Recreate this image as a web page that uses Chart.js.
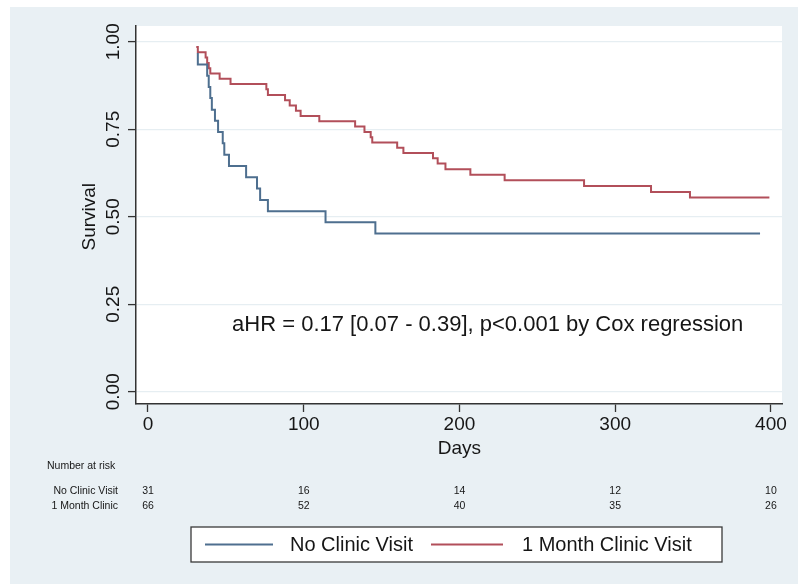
<!DOCTYPE html>
<html><head><meta charset="utf-8">
<script src="https://cdn.jsdelivr.net/npm/chart.js@4.4.1/dist/chart.umd.min.js"></script>
<style>html,body{margin:0;padding:0;background:#fff}#wrap{width:798px;height:584px;position:relative}</style>
</head><body><div id="wrap"><canvas id="c" width="798" height="584"></canvas></div>
<script>
const xTicks = [0, 100, 200, 300, 400];
const yTicks = [0, 0.25, 0.5, 0.75, 1];
const yTickLabels = ['0.00', '0.25', '0.50', '0.75', '1.00'];
const seriesNames = ['No Clinic Visit', '1 Month Clinic Visit'];
const riskTitle = 'Number at risk';
const riskRowLabels = ['No Clinic Visit', '1 Month Clinic'];
const riskDays = [0, 100, 200, 300, 400];
const riskNoVisit = [31, 16, 14, 12, 10];
const riskClinic = [66, 52, 40, 35, 26];
const annotationText = 'aHR = 0.17 [0.07 - 0.39], p<0.001 by Cox regression';

const noVisitDays = [32, 32, 38, 39, 40, 41, 43, 45, 48, 49, 52, 63, 70, 72, 77, 114, 146, 393];
const noVisitSurv = [0.968, 0.935, 0.903, 0.871, 0.839, 0.806, 0.774, 0.742, 0.710, 0.677, 0.645, 0.613, 0.581, 0.548, 0.516, 0.484, 0.452, 0.452];
const clinicDays = [31, 32, 37, 38, 39, 40, 46, 53, 76, 77, 88, 91, 95, 98, 110, 133, 139, 143, 144, 160, 164, 183, 186, 191, 207, 229, 280, 323, 348, 399];
const clinicSurv = [0.985, 0.970, 0.955, 0.939, 0.924, 0.909, 0.894, 0.879, 0.864, 0.848, 0.833, 0.818, 0.803, 0.788, 0.773, 0.758, 0.742, 0.727, 0.712, 0.697, 0.682, 0.667, 0.652, 0.636, 0.620, 0.604, 0.588, 0.571, 0.555, 0.555];

const BLUE = '#4e6f8f';
const RED = '#b24f5a';
const FONT = '"Liberation Sans", Arial, Helvetica, sans-serif';
const TXT = '#161616';

const toPts = (xs, ys) => xs.map((x, i) => ({ x: x, y: ys[i] }));

const decor = {
  id: 'decor',
  beforeDraw(chart) {
    const ctx = chart.ctx, a = chart.chartArea;
    ctx.save();
    ctx.fillStyle = '#ffffff';
    ctx.fillRect(0, 0, chart.width, chart.height);
    ctx.fillStyle = '#e9f0f4';
    ctx.fillRect(10, 7, chart.width - 10, chart.height - 7);
    ctx.fillStyle = '#ffffff';
    ctx.fillRect(a.left, a.top, a.right - a.left, a.bottom - a.top);
    ctx.restore();
  },
  afterDraw(chart) {
    const ctx = chart.ctx, xs = chart.scales.x, ys = chart.scales.y;
    ctx.save();
    ctx.fillStyle = TXT;
    ctx.font = '19px ' + FONT;
    ctx.textAlign = 'center';
    ctx.textBaseline = 'middle';
    yTicks.forEach((v, i) => {
      ctx.save();
      ctx.translate(114, ys.getPixelForValue(v));
      ctx.rotate(-Math.PI / 2);
      ctx.fillText(yTickLabels[i], 0, 0);
      ctx.restore();
    });
    ctx.save();
    ctx.translate(90, ys.getPixelForValue(0.5));
    ctx.rotate(-Math.PI / 2);
    ctx.fillText('Survival', 0, 0);
    ctx.restore();
    ctx.fillText('Days', xs.getPixelForValue(200), 449);
    ctx.font = '22px ' + FONT;
    ctx.textAlign = 'left';
    ctx.fillText(annotationText, xs.getPixelForValue(54), ys.getPixelForValue(0.19));
    ctx.font = '10.5px ' + FONT;
    ctx.textAlign = 'left';
    ctx.fillText(riskTitle, 47, 466);
    ctx.textAlign = 'right';
    ctx.fillText(riskRowLabels[0], 118, 491);
    ctx.fillText(riskRowLabels[1], 118, 506);
    ctx.textAlign = 'center';
    riskDays.forEach((d, i) => {
      const px = xs.getPixelForValue(d);
      ctx.fillText(String(riskNoVisit[i]), px, 491);
      ctx.fillText(String(riskClinic[i]), px, 506);
    });
    const L = 191, T = 527, R = 722, B = 562, my = (T + B) / 2;
    ctx.fillStyle = '#ffffff';
    ctx.fillRect(L, T, R - L, B - T);
    ctx.strokeStyle = '#3a3a3a';
    ctx.lineWidth = 1.3;
    ctx.strokeRect(L, T, R - L, B - T);
    ctx.lineWidth = 2;
    ctx.strokeStyle = chart.data.datasets[0].borderColor;
    ctx.beginPath(); ctx.moveTo(205, my); ctx.lineTo(273, my); ctx.stroke();
    ctx.strokeStyle = chart.data.datasets[1].borderColor;
    ctx.beginPath(); ctx.moveTo(431, my); ctx.lineTo(503, my); ctx.stroke();
    ctx.fillStyle = TXT;
    ctx.font = '20px ' + FONT;
    ctx.textAlign = 'left';
    ctx.textBaseline = 'middle';
    ctx.fillText(chart.data.datasets[0].label, 290, my + 1);
    ctx.fillText(chart.data.datasets[1].label, 522, my + 1);
    ctx.restore();
  }
};

new Chart(document.getElementById('c'), {
  type: 'line',
  data: {
    datasets: [
      { label: seriesNames[0], data: toPts(noVisitDays, noVisitSurv), borderColor: BLUE, borderWidth: 2, stepped: 'before', pointRadius: 0, fill: false },
      { label: seriesNames[1], data: toPts(clinicDays, clinicSurv), borderColor: RED, borderWidth: 2, stepped: 'before', pointRadius: 0, fill: false }
    ]
  },
  options: {
    responsive: false,
    animation: false,
    devicePixelRatio: 1,
    layout: { padding: { left: 0, right: 16, top: 26, bottom: 0 } },
    plugins: { legend: { display: false }, tooltip: { enabled: false } },
    scales: {
      x: {
        type: 'linear', min: -7.7, max: 407.1,
        afterBuildTicks: s => { s.ticks = xTicks.map(v => ({ value: v })); },
        afterFit: s => { s.height = 180; },
        grid: { drawOnChartArea: false, drawTicks: true, tickLength: 8, tickColor: '#333', tickWidth: 1.3 },
        border: { display: true, color: '#333', width: 1.5 },
        ticks: { color: TXT, font: { family: FONT, size: 19 }, padding: 1, maxRotation: 0, callback: v => String(v) }
      },
      y: {
        type: 'linear', min: -0.035, max: 1.045,
        afterBuildTicks: s => { s.ticks = yTicks.map(v => ({ value: v })); },
        afterFit: s => { s.width = 136; },
        grid: { drawOnChartArea: true, color: '#e6eef2', lineWidth: 1.2, drawTicks: true, tickLength: 8, tickColor: '#333', tickWidth: 1.3 },
        border: { display: true, color: '#333', width: 1.5 },
        ticks: { display: false }
      }
    }
  },
  plugins: [decor]
});
</script>
</body></html>
